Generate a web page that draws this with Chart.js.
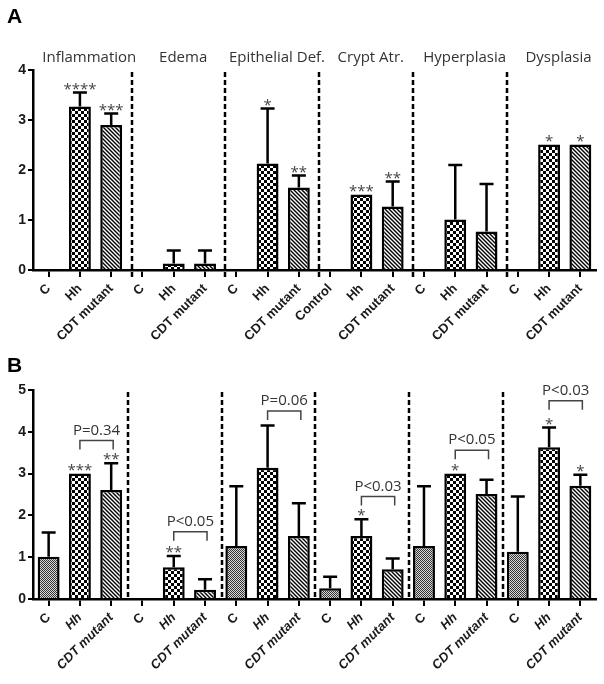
<!DOCTYPE html>
<html>
<head>
<meta charset="utf-8">
<script src="https://cdn.jsdelivr.net/npm/chart.js@4.4.1/dist/chart.umd.min.js"></script>
<style>
  body { margin: 0; background: #fff; }
  #wrapA { position: absolute; left: 0; top: 0; width: 604px; height: 340px; }
  #wrapB { position: absolute; left: 0; top: 340px; width: 604px; height: 344px; }
</style>
</head>
<body>
<div id="wrapA"><canvas id="chartA"></canvas></div>
<div id="wrapB"><canvas id="chartB"></canvas></div>
<script>
// group headings (panel A) and x categories
const groupTitles = ['Inflammation', 'Edema', 'Epithelial Def.', 'Crypt Atr.', 'Hyperplasia', 'Dysplasia'];
const labelsA = ['C', 'Hh', 'CDT mutant', 'C', 'Hh', 'CDT mutant', 'C', 'Hh', 'CDT mutant',
                 'Control', 'Hh', 'CDT mutant', 'C', 'Hh', 'CDT mutant', 'C', 'Hh', 'CDT mutant'];
const labelsB = ['C', 'Hh', 'CDT mutant', 'C', 'Hh', 'CDT mutant', 'C', 'Hh', 'CDT mutant',
                 'C', 'Hh', 'CDT mutant', 'C', 'Hh', 'CDT mutant', 'C', 'Hh', 'CDT mutant'];
const fillKinds = ['gray', 'check', 'hatch'];

// panel A: mean score, upper SD, significance
const meansA = [0, 3.27, 2.9, 0, 0.13, 0.13, 0, 2.13, 1.65, 0, 1.51, 1.27, 0, 1.01, 0.77, 0, 2.51, 2.51];
const sdA    = [0, 0.28, 0.23, 0, 0.26, 0.26, 0, 1.1, 0.24, 0, 0, 0.5, 0, 1.09, 0.95, 0, 0, 0];
const starsA = ['', '****', '***', '', '', '', '', '*', '**', '', '***', '**', '', '', '', '', '*', '*'];

// panel B
const meansB = [1.01, 3.0, 2.61, 0, 0.76, 0.22, 1.27, 3.14, 1.51, 0.26, 1.51, 0.71, 1.27, 3.0, 2.51, 1.13, 3.63, 2.71];
const sdB    = [0.58, 0, 0.64, 0, 0.27, 0.25, 1.43, 1.01, 0.78, 0.27, 0.4, 0.26, 1.43, 0, 0.34, 1.32, 0.47, 0.26];
const starsB = ['', '***', '**', '', '**', '', '', '', '', '', '*', '', '', '*', '', '', '*', '*'];

// P-value brackets in panel B
const bracketFrom = [1, 4, 7, 10, 13, 16];
const bracketTo   = [2, 5, 8, 11, 14, 17];
const bracketY    = [3.79, 1.61, 4.5, 2.45, 3.56, 4.74];
const bracketText = ['P=0.34', 'P<0.05', 'P=0.06', 'P<0.03', 'P<0.05', 'P<0.03'];

function makePattern(kind) {
  const c = document.createElement('canvas');
  const g = c.getContext('2d');
  if (kind === 'check') {
    c.width = 6; c.height = 6;
    g.fillStyle = '#fff'; g.fillRect(0, 0, 6, 6);
    g.fillStyle = '#000'; g.fillRect(0, 0, 3, 3); g.fillRect(3, 3, 3, 3);
  } else if (kind === 'hatch') {
    c.width = 4; c.height = 4;
    g.fillStyle = '#fff'; g.fillRect(0, 0, 4, 4);
    g.strokeStyle = '#000'; g.lineWidth = 1.4;
    g.beginPath();
    g.moveTo(-1, -1); g.lineTo(5, 5);
    g.moveTo(-1, 3); g.lineTo(1, 5);
    g.moveTo(3, -1); g.lineTo(5, 1);
    g.stroke();
  } else {
    c.width = 2; c.height = 2;
    g.fillStyle = '#d8d8d8'; g.fillRect(0, 0, 2, 2);
    g.fillStyle = '#333'; g.fillRect(0, 0, 1, 1); g.fillRect(1, 1, 1, 1);
  }
  return g.createPattern(c, 'repeat');
}

const patterns = {};
fillKinds.forEach(k => patterns[k] = makePattern(k));

function decorPlugin(cfg) {
  return {
    id: 'decor' + cfg.letter,
    afterDatasetsDraw(chart) {
      const ctx = chart.ctx;
      const xs = chart.scales.x, ys = chart.scales.y;
      const area = chart.chartArea;
      const bars = chart.getDatasetMeta(0).data;
      ctx.save();

      // dashed group separators
      ctx.strokeStyle = '#000';
      ctx.lineWidth = 2.5;
      ctx.setLineDash([5, 3]);
      for (let g = 1; g < 6; g++) {
        const x = Math.round(xs.getPixelForValue(g * 3 - cfg.dashShift));
        ctx.beginPath();
        ctx.moveTo(x, area.top + 2);
        ctx.lineTo(x, area.bottom + cfg.dashExtend);
        ctx.stroke();
      }
      ctx.setLineDash([]);

      // error bars (upper only)
      ctx.lineWidth = 2.5;
      cfg.means.forEach((m, i) => {
        if (!cfg.sd[i]) return;
        const x = bars[i].x;
        const y0 = ys.getPixelForValue(m);
        const y1 = ys.getPixelForValue(m + cfg.sd[i]);
        ctx.beginPath();
        ctx.moveTo(x, y0);
        ctx.lineTo(x, y1);
        ctx.moveTo(x - 7, y1);
        ctx.lineTo(x + 7, y1);
        ctx.stroke();
      });

      // significance stars
      ctx.fillStyle = '#444';
      ctx.font = '15px "Open Sans"';
      ctx.textAlign = 'center';
      ctx.textBaseline = 'alphabetic';
      cfg.stars.forEach((s, i) => {
        if (!s) return;
        const top = ys.getPixelForValue(cfg.means[i] + cfg.sd[i]);
        ctx.fillText(s, bars[i].x, top + 1);
      });

      // brackets with P values
      if (cfg.brackets) {
        ctx.strokeStyle = '#444';
        ctx.lineWidth = 1.5;
        ctx.font = '15px "Open Sans"';
        ctx.fillStyle = '#333';
        ctx.textBaseline = 'middle';
        bracketFrom.forEach((f, k) => {
          const x1 = bars[f].x;
          const x2 = bars[bracketTo[k]].x + 2;
          const y = ys.getPixelForValue(bracketY[k]);
          ctx.beginPath();
          ctx.moveTo(x1, y + 9);
          ctx.lineTo(x1, y);
          ctx.lineTo(x2, y);
          ctx.lineTo(x2, y + 9);
          ctx.stroke();
          ctx.fillText(bracketText[k], (x1 + x2) / 2, y - 10);
        });
      }

      // group headings
      if (cfg.titles) {
        ctx.fillStyle = '#333';
        ctx.font = '15px "Open Sans"';
        ctx.textAlign = 'center';
        ctx.textBaseline = 'middle';
        cfg.titles.forEach((t, g) => {
          ctx.fillText(t, xs.getPixelForValue(g * 3 + 1.3), area.top - 12);
        });
      }

      // panel letter
      ctx.fillStyle = '#000';
      ctx.font = 'bold 21px Arial';
      ctx.textAlign = 'left';
      ctx.textBaseline = 'alphabetic';
      ctx.fillText(cfg.letter, 7, cfg.letterY);
      ctx.restore();
    }
  };
}

function buildChart(id, labels, means, yMax, topPad, xHeight, tickFont, plugin) {
  return new Chart(document.getElementById(id), {
    type: 'bar',
    data: {
      labels: labels,
      datasets: [{
        data: means,
        backgroundColor: labels.map((l, i) => patterns[fillKinds[i % 3]]),
        borderColor: '#000',
        borderWidth: 2.5,
        barPercentage: 0.7,
        categoryPercentage: 1.0
      }]
    },
    options: {
      responsive: true,
      maintainAspectRatio: false,
      animation: false,
      layout: { padding: { top: topPad, right: 8, left: 0, bottom: 0 } },
      plugins: { legend: { display: false }, tooltip: { enabled: false } },
      scales: {
        x: {
          offset: true,
          afterFit: s => { s.height = xHeight; },
          grid: { offset: false, drawOnChartArea: false, drawTicks: true, tickLength: 7,
                  tickWidth: 2, tickColor: '#000', lineWidth: 2 },
          border: { display: true, color: '#000', width: 2.5 },
          ticks: { autoSkip: false, minRotation: 45, maxRotation: 45, color: '#1a1a1a',
                   padding: 4, font: tickFont }
        },
        y: {
          min: 0, max: yMax,
          afterFit: s => { s.width = 33; },
          grid: { drawOnChartArea: false, drawTicks: true, tickLength: 5,
                  tickWidth: 2, tickColor: '#000', lineWidth: 2 },
          border: { display: true, color: '#000', width: 2.5 },
          ticks: { stepSize: 1, color: '#1a1a1a', padding: 2,
                   font: { family: 'Arial', weight: 'bold', size: 14 } }
        }
      }
    },
    plugins: [plugin]
  });
}

buildChart('chartA', labelsA, meansA, 4, 70, 70,
  { family: 'Arial', weight: 'bold', size: 13 },
  decorPlugin({ letter: 'A', letterY: 23, means: meansA, sd: sdA, stars: starsA,
                titles: groupTitles, dashShift: 0.35, dashExtend: 8 }));

buildChart('chartB', labelsB, meansB, 5, 50, 85,
  ctx => ({ family: 'Arial', weight: 'bold', size: 13, style: ctx.index % 3 === 0 ? 'normal' : 'italic' }),
  decorPlugin({ letter: 'B', letterY: 32, means: meansB, sd: sdB, stars: starsB,
                brackets: true, dashShift: 0.47, dashExtend: 0 }));
</script>
</body>
</html>
